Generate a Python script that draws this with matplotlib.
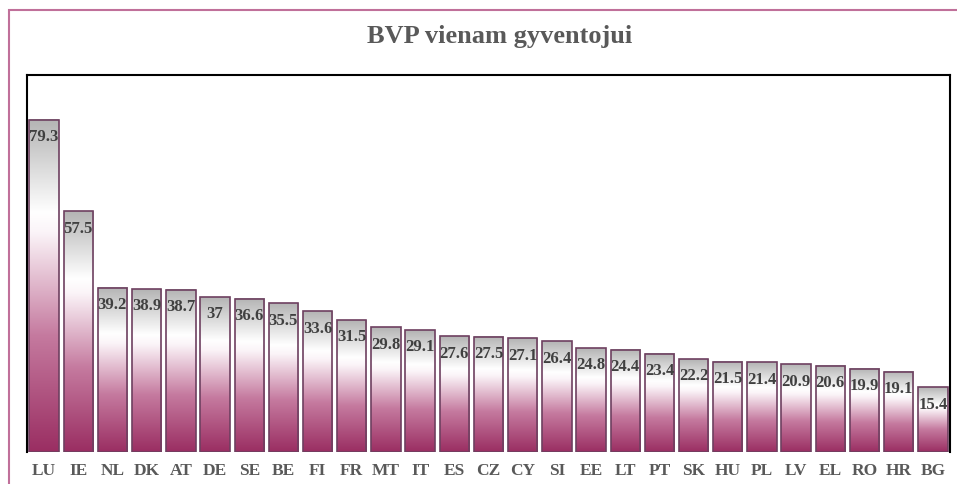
import numpy as np
import matplotlib.pyplot as plt
from matplotlib.colors import LinearSegmentedColormap
from matplotlib.patches import Rectangle

countries = ['LU', 'IE', 'NL', 'DK', 'AT', 'DE', 'SE', 'BE', 'FI', 'FR', 'MT', 'IT', 'ES', 'CZ',
             'CY', 'SI', 'EE', 'LT', 'PT', 'SK', 'HU', 'PL', 'LV', 'EL', 'RO', 'HR', 'BG']
values = [79.3, 57.5, 39.2, 38.9, 38.7, 37, 36.6, 35.5, 33.6, 31.5, 29.8, 29.1, 27.6, 27.5,
          27.1, 26.4, 24.8, 24.4, 23.4, 22.2, 21.5, 21.4, 20.9, 20.6, 19.9, 19.1, 15.4]

plt.rcParams['font.family'] = ['Liberation Serif', 'DejaVu Serif']

# gradientas: apacia -> virsus
cmap = LinearSegmentedColormap.from_list(
    'bvp', [(0.0, '#9a2e62'), (0.35, '#c57a9f'), (0.66, '#fbf4f8'), (0.72, '#ffffff'), (1.0, '#b4b4b4')])
grad = np.linspace(0, 1, 256).reshape(-1, 1)

fig = plt.figure(figsize=(9.57, 4.84), dpi=100)
fig.patches.append(Rectangle((9/957, -0.1), 1.1, 1 - 10/484 + 0.1, transform=fig.transFigure,
                             fill=False, edgecolor='#c0709a', linewidth=1.5))

ax = fig.add_axes([27/957, 1 - 452/484, 923/957, 377/484])
w = 0.86
for i, v in enumerate(values):
    ax.imshow(grad, extent=[i - w/2, i + w/2, 0, v], origin='lower', cmap=cmap,
              aspect='auto', interpolation='bilinear', zorder=2)
    ax.add_patch(Rectangle((i - w/2, 0), w, v, fill=False, edgecolor='#6e4060', linewidth=1.2, zorder=3))
    ax.annotate(f'{v:g}', (i, v), xytext=(0, -12.5), textcoords='offset points',
                ha='center', va='center', fontsize=12, fontweight='bold',
                color='#404040', zorder=4)

ax.set_xlim(-0.5, len(values) - 0.5)
ax.set_ylim(0, 90)
ax.set_xticks(range(len(countries)))
ax.set_xticklabels(countries, fontsize=12.5, fontweight='bold', color='#595959')
ax.tick_params(axis='x', length=0, pad=8)
ax.set_yticks([])
for s in ax.spines.values():
    s.set_linewidth(1.5)
    s.set_color('black')
ax.spines['bottom'].set_visible(False)

fig.text(0.522, 1 - 37/484, 'BVP vienam gyventojui', ha='center', va='center', fontsize=19,
         fontweight='bold', color='#595959')

fig.savefig('out.png', dpi=100)
